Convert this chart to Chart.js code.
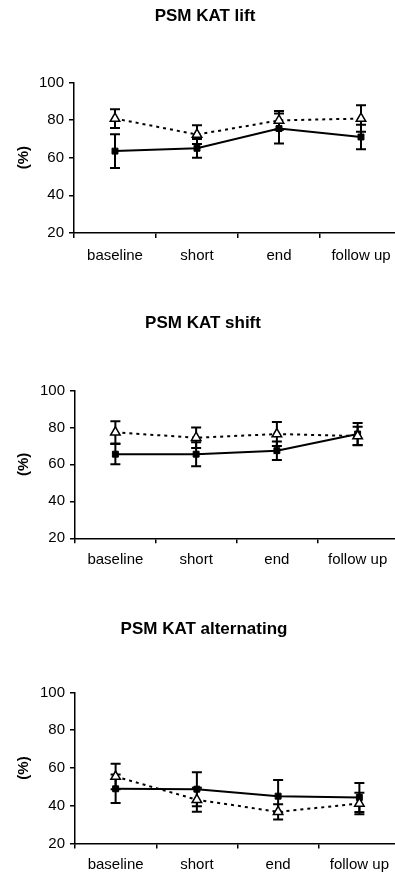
<!DOCTYPE html>
<html>
<head>
<meta charset="utf-8">
<script src="https://cdn.jsdelivr.net/npm/chart.js@4/dist/chart.umd.min.js"></script>
<style>
body { margin: 0; background: #fff; width: 395px; height: 875px; overflow: hidden; }
canvas { display: block; }
</style>
</head>
<body>
<canvas id="lift" width="410" height="290"></canvas>
<canvas id="shift" width="410" height="290"></canvas>
<canvas id="alternating" width="410" height="305"></canvas>
<script>
var categories = ['baseline', 'short', 'end', 'follow up']
var yMin = 20, yMax = 100, yStep = 20

// lift
var liftSquare = [63.5, 65, 75.5, 71]
var liftSquareErr = [9, 5, 8, 6.5]
var liftTriangle = [80.8, 72.3, 79.8, 80.8]
var liftTriangleErr = [5, 5, 5, 7]
// shift
var shiftSquare = [65.5, 65.5, 67.4, 76.4]
var shiftSquareErr = [5.5, 6.5, 5, 6]
var shiftTriangle = [77.3, 74.4, 76.4, 75.3]
var shiftTriangleErr = [6, 5.5, 6.5, 5]
// alternating
var altSquare = [49, 48.8, 45.1, 44.4]
var altSquareErr = [7.5, 9, 8.5, 7.7]
var altTriangle = [55.5, 43.2, 36.8, 41.2]
var altTriangleErr = [6.7, 6.4, 4, 5.7]

Chart.defaults.font.family = 'Arial, "Liberation Sans", sans-serif'
Chart.defaults.color = '#000'

//error bars, drawn under the markers
var errorBars = {
	id: 'errorBars',
	beforeDatasetsDraw: function (chart) {
		var ctx = chart.ctx
		var x = chart.scales.x, y = chart.scales.y
		ctx.save()
		ctx.strokeStyle = '#000'
		ctx.lineWidth = 2
		chart.data.datasets.forEach(function (ds) {
			ds.data.forEach(function (v, i) {
				var px = x.getPixelForValue(i)
				var top = y.getPixelForValue(v + ds.err[i])
				var bot = y.getPixelForValue(v - ds.err[i])
				ctx.beginPath()
				ctx.moveTo(px, top); ctx.lineTo(px, bot)
				ctx.moveTo(px - 5, top); ctx.lineTo(px + 5, top)
				ctx.moveTo(px - 5, bot); ctx.lineTo(px + 5, bot)
				ctx.stroke()
			})
		})
		ctx.restore()
	}
}

function panel(id, title, sq, sqErr, tri, triErr, lay) {
	new Chart(document.getElementById(id), {
		type: 'line',
		data: {
			labels: categories,
			datasets: [{
				data: tri,
				err: triErr,
				borderColor: '#000',
				borderWidth: 2,
				borderDash: [3, 4],
				pointStyle: 'triangle',
				pointRadius: 5.5,
				pointBackgroundColor: '#fff',
				pointBorderColor: '#000',
				pointBorderWidth: 1.5,
				tension: 0
			}, {
				data: sq,
				err: sqErr,
				borderColor: '#000',
				borderWidth: 2,
				pointStyle: 'rect',
				pointRadius: 4.2,
				pointBackgroundColor: '#000',
				pointBorderColor: '#000',
				pointBorderWidth: 1,
				tension: 0
			}]
		},
		options: {
			responsive: false,
			animation: false,
			layout: { padding: { left: 8, right: lay.right, top: 0, bottom: lay.bottom } },
			plugins: {
				legend: { display: false },
				tooltip: { enabled: false },
				title: {
					display: true,
					text: title,
					font: { size: 17, weight: 'bold' },
					padding: { top: lay.titleTop, bottom: lay.titleBottom }
				}
			},
			scales: {
				x: {
					offset: true,
					grid: { offset: true, drawOnChartArea: false, tickLength: 5, color: '#000', lineWidth: 1.5 },
					border: { color: '#000', width: 1.5 },
					ticks: { font: { size: 15 }, padding: lay.xPad, maxRotation: 0 }
				},
				y: {
					min: yMin,
					max: yMax,
					afterFit: function (s) { s.width = lay.yWidth },
					grid: { drawOnChartArea: false, tickLength: 5, color: '#000', lineWidth: 1.5 },
					border: { color: '#000', width: 1.5 },
					ticks: { stepSize: yStep, font: { size: 15 }, padding: 5 },
					title: { display: true, text: '(%)', font: { size: 15, weight: 'bold' }, padding: { top: 7, bottom: 0 } }
				}
			}
		},
		plugins: [errorBars]
	})
}

panel('lift', 'PSM KAT lift', liftSquare, liftSquareErr, liftTriangle, liftTriangleErr,
	{ right: 8, bottom: 16, titleTop: 6, titleBottom: 56, xPad: 9, yWidth: 66 })
panel('shift', 'PSM KAT shift', shiftSquare, shiftSquareErr, shiftTriangle, shiftTriangleErr,
	{ right: 12, bottom: 2.7, titleTop: 23.5, titleBottom: 56.5, xPad: 8, yWidth: 67 })
panel('alternating', 'PSM KAT alternating', altSquare, altSquareErr, altTriangle, altTriangleErr,
	{ right: 10, bottom: 4.4, titleTop: 39, titleBottom: 53, xPad: 7, yWidth: 67 })
</script>
</body>
</html>
